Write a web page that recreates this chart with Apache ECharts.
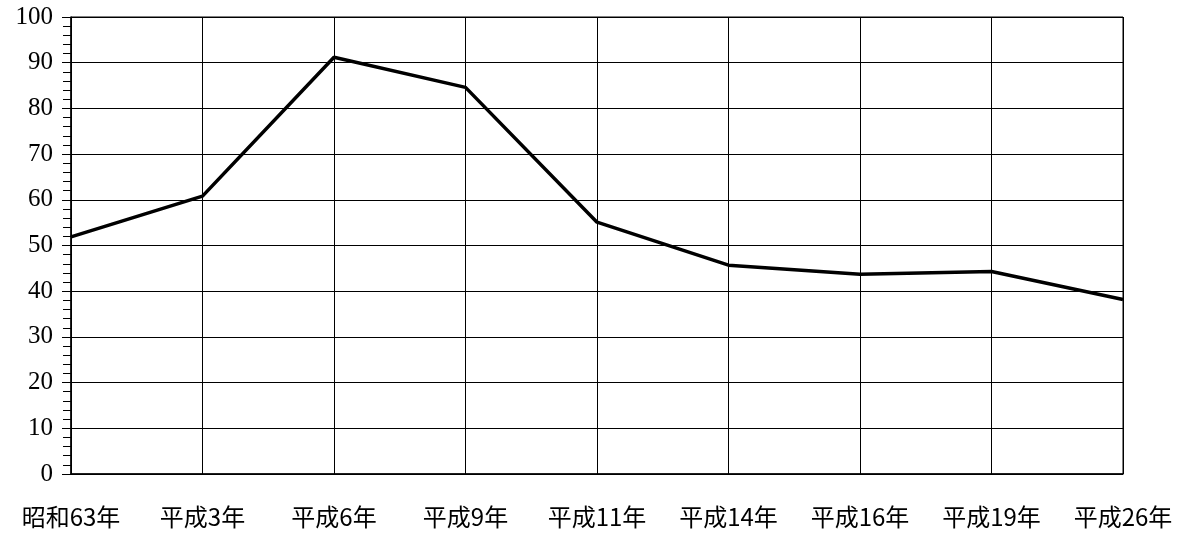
<!DOCTYPE html>
<html>
<head>
<meta charset="utf-8">
<script src="https://cdn.jsdelivr.net/npm/echarts@6/dist/echarts.min.js"></script>
<style>
html,body{margin:0;padding:0;background:#fff;}
#c{width:1179px;height:534px;}
</style>
</head>
<body>
<div id="c"></div>
<script>
const categories = ['昭和63年','平成3年','平成6年','平成9年','平成11年','平成14年','平成16年','平成19年','平成26年'];
const values = [51.9, 60.8, 91.2, 84.6, 55.1, 45.7, 43.7, 44.3, 38.2];
const yMin = 0, yMax = 100, yStep = 10;

const chart = echarts.init(document.getElementById('c'), null, {renderer:'canvas'});
chart.setOption({
  animation: false,
  backgroundColor: '#fff',
  grid: {left: 71, right: 56, top: 17, bottom: 60, show: true, borderColor: '#000', borderWidth: 1},
  xAxis: {
    type: 'category',
    data: categories,
    boundaryGap: false,
    axisLine: {show: true, lineStyle: {color: '#000', width: 1.5}},
    axisTick: {show: false},
    splitLine: {show: true, lineStyle: {color: '#000', width: 1}},
    axisLabel: {color: '#000', fontSize: 24, fontFamily: '"Noto Sans CJK JP", sans-serif', margin: 31, interval: 0}
  },
  yAxis: {
    type: 'value',
    min: yMin, max: yMax, interval: yStep,
    axisLine: {show: true, lineStyle: {color: '#000', width: 1.5}},
    axisTick: {show: true, inside: false, length: 9, lineStyle: {color: '#000'}},
    minorTick: {show: true, splitNumber: 5, length: 8, lineStyle: {color: '#000'}},
    splitLine: {show: true, lineStyle: {color: '#000', width: 1}},
    axisLabel: {color: '#000', fontSize: 25, fontFamily: '"Liberation Serif", "DejaVu Serif", serif', margin: 18}
  },
  series: [{
    type: 'line',
    data: values,
    symbol: 'none',
    lineStyle: {color: '#000', width: 3.5},
    itemStyle: {color: '#000'}
  }]
});
</script>
</body>
</html>
